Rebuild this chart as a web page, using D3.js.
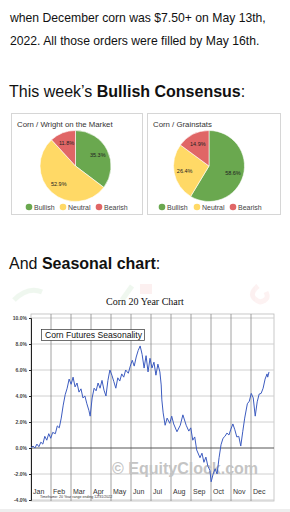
<!DOCTYPE html>
<html>
<head>
<meta charset="utf-8">
<script src="https://cdn.jsdelivr.net/npm/d3@7"></script>
<style>
  body { margin: 0; background: #fff; }
  svg { display: block; }
</style>
</head>
<body>
<script>
// Bullish consensus polls
const pieCategories = ["Bullish", "Neutral", "Bearish"];
const pieColors = ["#6aa84f", "#ffd966", "#e06666"];
const wrightValues = [35.3, 52.9, 11.8];
const grainstatsValues = [58.6, 26.4, 14.9];

// Seasonal chart: day of year vs average % change
const seasonDays = [0, 3, 6, 9, 12, 15, 18, 21, 24, 27, 30, 33, 37, 40, 43, 46, 49, 52, 55, 58,
  61, 64, 67, 70, 73, 76, 79, 82, 85, 88, 90, 93, 96, 99, 102, 105, 108, 111, 114, 117,
  120, 123, 126, 129, 132, 135, 138, 141, 144, 148, 151, 154, 157, 160, 163, 166, 169, 172, 175, 178,
  181, 184, 187, 190, 193, 196, 198, 199, 201, 204, 207, 211, 214, 217, 222, 227, 231, 236, 240, 243,
  246, 249, 252, 257, 260, 263, 266, 269, 272, 274, 277, 280, 283, 286, 289, 292, 295, 298, 301, 304,
  307, 310, 313, 316, 319, 322, 325, 329, 332, 335, 338, 341, 344, 347, 350, 353, 356, 359, 360, 362];
const seasonPct = [0.0, 0.15, 0.0, 0.3, 0.1, 0.45, 0.3, 0.9, 0.6, 1.1, 0.75, 1.2, 1.1, 1.7, 1.55, 2.3, 3.3, 4.1, 4.6, 5.3,
  4.9, 5.45, 4.7, 5.0, 4.3, 4.55, 3.85, 4.0, 3.4, 2.9, 2.45, 3.85, 4.6, 4.4, 5.0, 4.6, 5.2, 4.45, 4.0, 5.2,
  6.0, 5.6, 5.1, 4.6, 5.4, 5.15, 5.7, 5.45, 6.0, 5.75, 6.3, 6.75, 6.3, 7.0, 7.5, 7.85, 7.2, 6.15, 7.1, 5.85,
  6.9, 6.15, 6.6, 5.6, 6.45, 5.85, 4.85, 3.7, 2.7, 1.75, 2.3, 1.9, 2.45, 1.85, 1.25, 1.75, 2.55, 1.75, 1.3, 1.55,
  0.6, 0.85, -0.15, -0.75, -0.4, -1.1, -0.7, -1.4, -1.7, -2.6, -2.0, -1.6, -2.0, -0.75, 0.25, 0.75, 0.9, 1.15, 1.0, 1.45,
  1.85, 1.4, 0.85, 0.9, 0.15, 1.25, 2.3, 3.4, 3.6, 4.2, 3.85, 2.45, 3.55, 4.15, 4.2, 4.6, 5.3, 5.7, 5.45, 5.85];
const yTicks = [-4, -2, 0, 2, 4, 6, 8, 10];
const monthLabels = ["Jan", "Feb", "Mar", "Apr", "May", "Jun", "Jul", "Aug", "Sep", "Oct", "Nov", "Dec"];

const sans = "'Liberation Sans', Arial, sans-serif";

const svg = d3.select("body").append("svg")
    .attr("width", 290)
    .attr("height", 512);

// Article text
const para = svg.append("g")
    .style("font-family", sans)
    .style("font-size", "12.2px")
    .attr("fill", "#111");
para.append("text").attr("x", 10).attr("y", 22).text("when December corn was $7.50+ on May 13th,");
para.append("text").attr("x", 10).attr("y", 45).text("2022. All those orders were filled by May 16th.");

const h1 = svg.append("text")
    .attr("x", 9).attr("y", 97)
    .style("font-family", sans).style("font-size", "16px")
    .attr("fill", "#111");
h1.append("tspan").text("This week\u2019s ");
h1.append("tspan").style("font-weight", "bold").text("Bullish Consensus");
h1.append("tspan").text(":");

const h2 = svg.append("text")
    .attr("x", 9).attr("y", 269)
    .style("font-family", sans).style("font-size", "16px")
    .attr("fill", "#111");
h2.append("tspan").text("And ");
h2.append("tspan").style("font-weight", "bold").text("Seasonal chart");
h2.append("tspan").text(":");

// Pie cards
function pieCard(x0, w, title, values, cx, legendX) {
    const g = svg.append("g");
    g.append("rect")
        .attr("x", x0 + 0.5).attr("y", 113.5)
        .attr("width", w).attr("height", 101)
        .attr("fill", "#fff").attr("stroke", "#d6d6d6");
    g.append("text")
        .attr("x", x0 + 6).attr("y", 127)
        .style("font-family", sans).style("font-size", "7.8px")
        .attr("fill", "#333").text(title);

    const r = 35.5;
    const pie = d3.pie().sort(null).value(d => d)(values);
    const arc = d3.arc().innerRadius(0).outerRadius(r);
    const labelArc = d3.arc().innerRadius(r * 0.7).outerRadius(r * 0.7);
    const pg = g.append("g").attr("transform", `translate(${cx},166)`);
    pg.selectAll("path").data(pie).join("path")
        .attr("d", arc)
        .attr("fill", (d, i) => pieColors[i])
        .attr("stroke", "#fff").attr("stroke-width", 0.6);
    pg.selectAll("text").data(pie).join("text")
        .attr("transform", d => `translate(${labelArc.centroid(d)})`)
        .attr("text-anchor", "middle").attr("dy", "0.35em")
        .style("font-family", sans).style("font-size", "5.5px")
        .attr("fill", "#222")
        .text(d => d.data.toFixed(1) + "%");

    const lg = g.append("g");
    pieCategories.forEach((c, i) => {
        const lx = legendX[i];
        lg.append("circle").attr("cx", lx).attr("cy", 207).attr("r", 3.3).attr("fill", pieColors[i]);
        lg.append("text").attr("x", lx + 5).attr("y", 209.5)
            .style("font-family", sans).style("font-size", "7px")
            .attr("fill", "#444").text(c);
    });
}
pieCard(11, 131, "Corn / Wright on the Market", wrightValues, 75.5, [29, 63, 99]);
pieCard(147, 133, "Corn / Grainstats", grainstatsValues, 209, [162, 197, 233]);

// Seasonal chart
const chart = svg.append("g");

// faint logo marks behind the title
const logo = chart.append("g").attr("fill", "none").attr("stroke-width", 5).attr("opacity", 0.07);
logo.append("path").attr("d", "M14,300 Q28,286 42,292").attr("stroke", "#2aa02a");
logo.append("path").attr("d", "M122,300 L132,286").attr("stroke", "#2aa02a");
logo.append("rect").attr("x", 140).attr("y", 284).attr("width", 12).attr("height", 10)
    .attr("fill", "#e04040").attr("stroke", "none");
logo.append("path").attr("d", "M258,286 Q246,296 260,302 Q270,300 266,292").attr("stroke", "#e04040");

chart.append("text")
    .attr("x", 145).attr("y", 305)
    .attr("text-anchor", "middle")
    .style("font-family", "'Liberation Serif', 'Times New Roman', serif")
    .style("font-size", "10px")
    .attr("fill", "#111")
    .text("Corn 20 Year Chart");

const x = d3.scaleLinear().domain([0, 365]).range([31, 271]);
const xm = d3.scaleLinear().domain([0, 12]).range([31, 271]);
const y = d3.scaleLinear().domain([-4, 10]).range([500, 318]);

const plotLeft = 31, plotRight = 274, plotTop = 314, plotBottom = 501;

chart.append("rect")
    .attr("x", plotLeft).attr("y", plotTop)
    .attr("width", plotRight - plotLeft).attr("height", plotBottom - plotTop)
    .attr("fill", "#fff").attr("stroke", "#bbb").attr("stroke-width", 0.8);

// horizontal grid
chart.append("g").selectAll("line").data(yTicks.filter(d => d !== 0)).join("line")
    .attr("x1", plotLeft).attr("x2", plotRight)
    .attr("y1", d => y(d)).attr("y2", d => y(d))
    .attr("stroke", "#d0d0d0").attr("stroke-width", 1);

// vertical month grid
chart.append("g").selectAll("line").data(d3.range(1, 12)).join("line")
    .attr("x1", d => xm(d)).attr("x2", d => xm(d))
    .attr("y1", plotTop).attr("y2", plotBottom)
    .attr("stroke", "#8a8a8a").attr("stroke-width", 0.8);

// zero line
chart.append("line")
    .attr("x1", plotLeft).attr("x2", plotRight)
    .attr("y1", y(0)).attr("y2", y(0))
    .attr("stroke", "#555").attr("stroke-width", 1);

// watermark
chart.append("text")
    .attr("x", 112).attr("y", 474)
    .style("font-family", sans).style("font-size", "16px").style("font-weight", "bold")
    .attr("fill", "#c4c4c4")
    .text("\u00a9 EquityClock.com");

// left axis
const yAxis = chart.append("g")
    .attr("transform", `translate(${plotLeft},0)`)
    .call(d3.axisLeft(y).tickValues(yTicks).tickSize(2).tickFormat(d => d.toFixed(1) + "%"));
yAxis.select(".domain").attr("stroke", "#222");
yAxis.selectAll("line").attr("stroke", "#222");
yAxis.selectAll("text")
    .style("font-family", sans).style("font-size", "5px").style("font-weight", "bold")
    .attr("fill", "#444").attr("x", -4);

// month labels
chart.append("g").selectAll("text").data(monthLabels).join("text")
    .attr("x", (d, i) => xm(i) + 2).attr("y", 494)
    .style("font-family", sans).style("font-size", "7px")
    .attr("fill", "#333")
    .text(d => d);

chart.append("text")
    .attr("x", 40).attr("y", 498)
    .style("font-family", sans).style("font-size", "3.6px")
    .attr("fill", "#333")
    .text("Timeframe: 20 Year range ending 12/31/2022");

// legend box
chart.append("rect")
    .attr("x", 41.5).attr("y", 329.5).attr("width", 103).attr("height", 11)
    .attr("fill", "#fff").attr("stroke", "#333").attr("stroke-width", 0.7);
chart.append("text")
    .attr("x", 45).attr("y", 338)
    .style("font-family", sans).style("font-size", "8.6px")
    .attr("fill", "#111")
    .text("Corn Futures Seasonality");

// seasonal line
const line = d3.line()
    .x((d, i) => x(seasonDays[i]))
    .y(d => y(d));
chart.append("path")
    .datum(seasonPct)
    .attr("d", line)
    .attr("fill", "none")
    .attr("stroke", "#3d5cc0")
    .attr("stroke-width", 1);

// bottom strip of page
svg.append("rect").attr("x", 0).attr("y", 509).attr("width", 290).attr("height", 3).attr("fill", "#eeeeee");
</script>
</body>
</html>
